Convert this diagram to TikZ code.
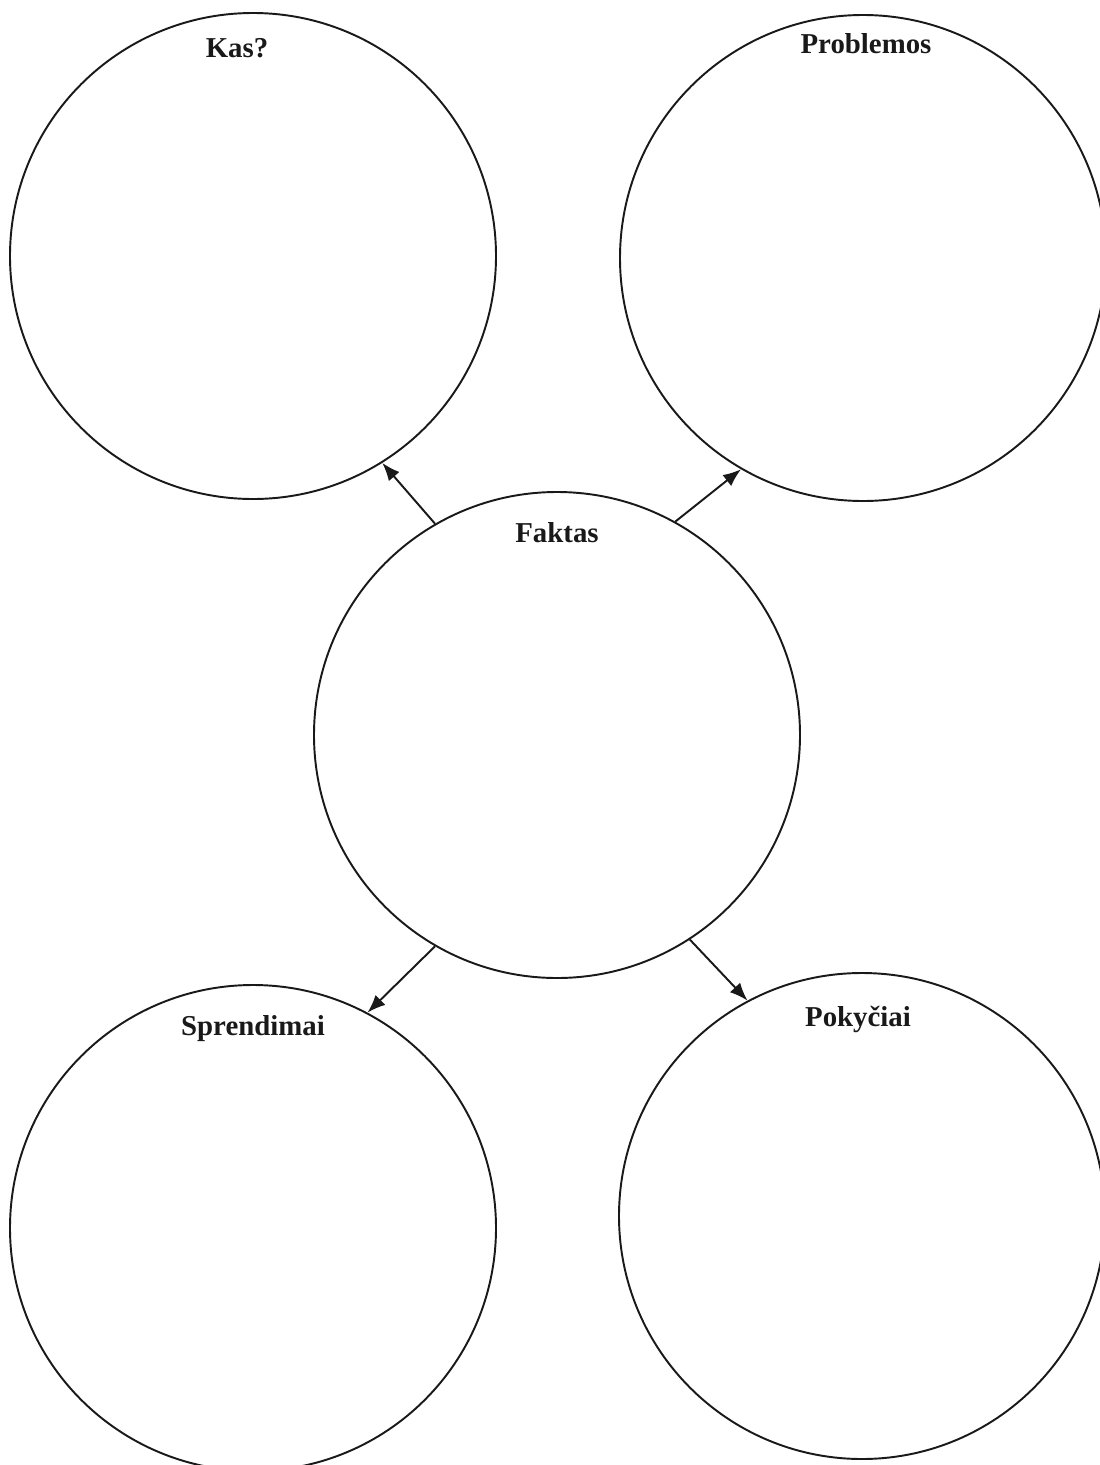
\documentclass[tikz,border=0pt]{standalone}
\usepackage{fontspec}
\setmainfont{Liberation Serif}
\usetikzlibrary{
  arrows.meta,
  positioning
}

\begin{document}
\begin{tikzpicture}[
    x=0.1mm, y=-0.1mm,
    circ/.style={
      circle, draw=black!90, line width=0.55pt,
      minimum size=48.6mm, inner sep=0pt
    },
    lbl/.style={anchor=base, font=\fontsize{8.2pt}{9pt}\selectfont\bfseries, text=black!90},
    arr/.style={-{Latex[length=1.8mm,width=1.4mm]}, line width=0.55pt, black!90},
  ]
  \useasboundingbox (0,0) rectangle (1100,1465);

  %% --- Circles ---
  \node[circ] (kas)  at (253,256)  {};
  \node[circ] (prob) at (863,258)  {};
  \node[circ] (fakt) at (557,735)  {};
  \node[circ] (spr)  at (253,1228) {};
  \node[circ] (pok)  at (862,1216) {};

  %% --- Titles ---
  \node[lbl] (kasT)  at (237,57)   {Kas?};
  \node[lbl] (probT) at (866,53)   {Problemos};
  \node[lbl] (faktT) at (557,542)  {Faktas};
  \node[lbl] (sprT)  at (253,1035) {Sprendimai};
  \node[lbl] (pokT)  at (858,1026) {Pokyčiai};

  %% --- Arrows ---
  \draw[arr] (fakt.120) -- (kas.302);
  \draw[arr] (fakt.61)  -- (prob.240);
  \draw[arr] (fakt.240) -- (spr.62);
  \draw[arr] (fakt.303) -- (pok.118);
\end{tikzpicture}
\end{document}
